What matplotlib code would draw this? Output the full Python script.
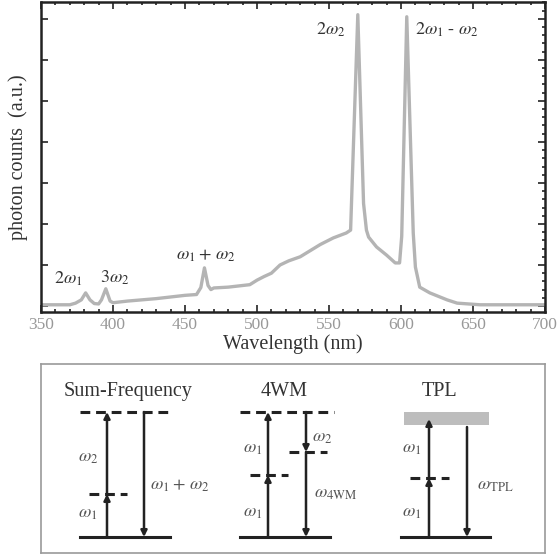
import numpy as np
import matplotlib.pyplot as plt
from matplotlib.ticker import MultipleLocator
from matplotlib.patches import Rectangle

plt.rcParams['font.family'] = ['Liberation Serif', 'DejaVu Serif']
plt.rcParams['mathtext.fontset'] = 'stix'

# --------------------------------
# Datos del espectro
# --------------------------------
wavelength = [350, 370, 374, 378, 381, 384, 387, 390, 392, 395, 398, 400, 405, 410,
              420, 430, 440, 450, 458, 461, 463.5, 466, 468, 470, 480, 490, 495, 500,
              505, 510, 516, 522, 530, 544, 553, 562, 565, 570, 574, 576, 577.5, 583,
              590, 596, 599, 600.5, 604, 608.5, 610, 613, 620, 632, 639, 655, 700]
counts = [0.03, 0.03, 0.07, 0.15, 0.32, 0.15, 0.06, 0.05, 0.15, 0.42, 0.12, 0.08, 0.10, 0.12,
          0.15, 0.18, 0.22, 0.26, 0.28, 0.45, 0.93, 0.50, 0.40, 0.44, 0.46, 0.50, 0.52, 0.63,
          0.72, 0.80, 1.00, 1.10, 1.20, 1.50, 1.66, 1.78, 1.85, 7.10, 2.50, 1.85, 1.68, 1.44,
          1.24, 1.05, 1.05, 1.70, 7.05, 1.78, 0.95, 0.46, 0.32, 0.15, 0.07, 0.03, 0.03]

peak_labels = [r'$2\omega_1$', r'$3\omega_2$', r'$\omega_1 +\, \omega_2$', r'$2\omega_2$',
               r'$2\omega_1$ - $\omega_2$']
peak_x = [369, 401, 464.6, 551, 632]
peak_y = [0.66, 0.68, 1.24, 6.73, 6.73]

W, H = 557, 556
fig = plt.figure(figsize=(W / 100, H / 100), dpi=100)

# --------------------------------
# Espectro
# --------------------------------
ax = fig.add_axes([41 / W, 1 - 312 / H, 504 / W, 310 / H])
ax.plot(wavelength, counts, color='#b4b4b4', lw=2.4)
ax.set_xlim(350, 700)
ax.set_ylim(-0.146, 7.41)
ax.xaxis.set_major_locator(MultipleLocator(50))
ax.xaxis.set_minor_locator(MultipleLocator(10))
ax.yaxis.set_major_locator(MultipleLocator(1))
ax.yaxis.set_minor_locator(MultipleLocator(0.2))
ax.tick_params(which='both', direction='in', top=True, right=True, colors='#222',
               labelcolor='#999', labelsize=12.5, width=1.2)
ax.tick_params(which='major', length=5)
ax.tick_params(which='minor', length=2.5, left=False)
ax.set_yticklabels([])
for s in ax.spines.values():
    s.set_linewidth(1.8)
    s.set_color('#222')
ax.set_xlabel('Wavelength (nm)', fontsize=14.5, color='#333', labelpad=1)
ax.set_ylabel('photon counts  (a.u.)', fontsize=14.5, color='#333', labelpad=6)

for lab, x, y in zip(peak_labels, peak_x, peak_y):
    ax.text(x, y, lab, fontsize=13, color='#333', ha='center', va='center')

# --------------------------------
# Diagramas de niveles (coordenadas en pixeles)
# --------------------------------
ax2 = fig.add_axes([40.7 / W, 1 - 553 / H, (545 - 40.7) / W, (553 - 364) / H])
ax2.set_xlim(40.7, 545)
ax2.set_ylim(553, 364)
ax2.set_xticks([])
ax2.set_yticks([])
for s in ax2.spines.values():
    s.set_linewidth(1.2)
    s.set_color('#9a9a9a')

lc = '#222'
txt = '#555'


def hline(x0, x1, y, dashed=False):
    if dashed:
        ax2.plot([x0, x1], [y, y], color=lc, lw=2.2, ls=(0, (3.2, 1.9)))
    else:
        ax2.plot([x0, x1], [y, y], color=lc, lw=2.2)


def arrow(x, y0, y1):
    ax2.annotate('', xy=(x, y1), xytext=(x, y0),
                 arrowprops=dict(arrowstyle='-|>', color=lc, lw=1.8,
                                 mutation_scale=9, shrinkA=0, shrinkB=0))


titles = ['Sum-Frequency', '4WM', 'TPL']
title_x = [128, 284, 440]
for t, x in zip(titles, title_x):
    ax2.text(x, 391, t, fontsize=14.5, color='#333', ha='center', va='center')

# Sum-Frequency
hline(80, 173, 412, dashed=True)
hline(80, 170, 537)
hline(89, 127, 494, dashed=True)
arrow(107, 537, 494)
arrow(107, 494, 412)
arrow(144, 412, 537)
ax2.text(88, 457, r'$\omega_2$', fontsize=13, color=txt, ha='center', va='center')
ax2.text(88, 513, r'$\omega_1$', fontsize=13, color=txt, ha='center', va='center')
ax2.text(180, 485, r'$\omega_1 +\, \omega_2$', fontsize=13, color=txt, ha='center', va='center')

# 4WM
hline(240, 334, 412, dashed=True)
hline(240, 330, 537)
hline(250, 288, 475, dashed=True)
hline(289, 327, 452, dashed=True)
arrow(268, 537, 475)
arrow(268, 475, 412)
arrow(306, 412, 452)
arrow(306, 452, 537)
ax2.text(253, 448, r'$\omega_1$', fontsize=13, color=txt, ha='center', va='center')
ax2.text(253, 512, r'$\omega_1$', fontsize=13, color=txt, ha='center', va='center')
ax2.text(322, 437, r'$\omega_2$', fontsize=13, color=txt, ha='center', va='center')
ax2.text(336, 493, r'$\omega_{\mathrm{4WM}}$', fontsize=13, color=txt, ha='center', va='center')

# TPL
ax2.add_patch(Rectangle((404, 412), 85, 13, facecolor='#bdbdbd', edgecolor='none'))
hline(401, 490, 537)
hline(410, 449, 478, dashed=True)
arrow(429, 537, 478)
arrow(429, 478, 419)
arrow(467, 427, 537)
ax2.text(412, 448, r'$\omega_1$', fontsize=13, color=txt, ha='center', va='center')
ax2.text(412, 512, r'$\omega_1$', fontsize=13, color=txt, ha='center', va='center')
ax2.text(495, 485, r'$\omega_{\mathrm{TPL}}$', fontsize=13, color=txt, ha='center', va='center')

fig.savefig('out.png', dpi=100)
